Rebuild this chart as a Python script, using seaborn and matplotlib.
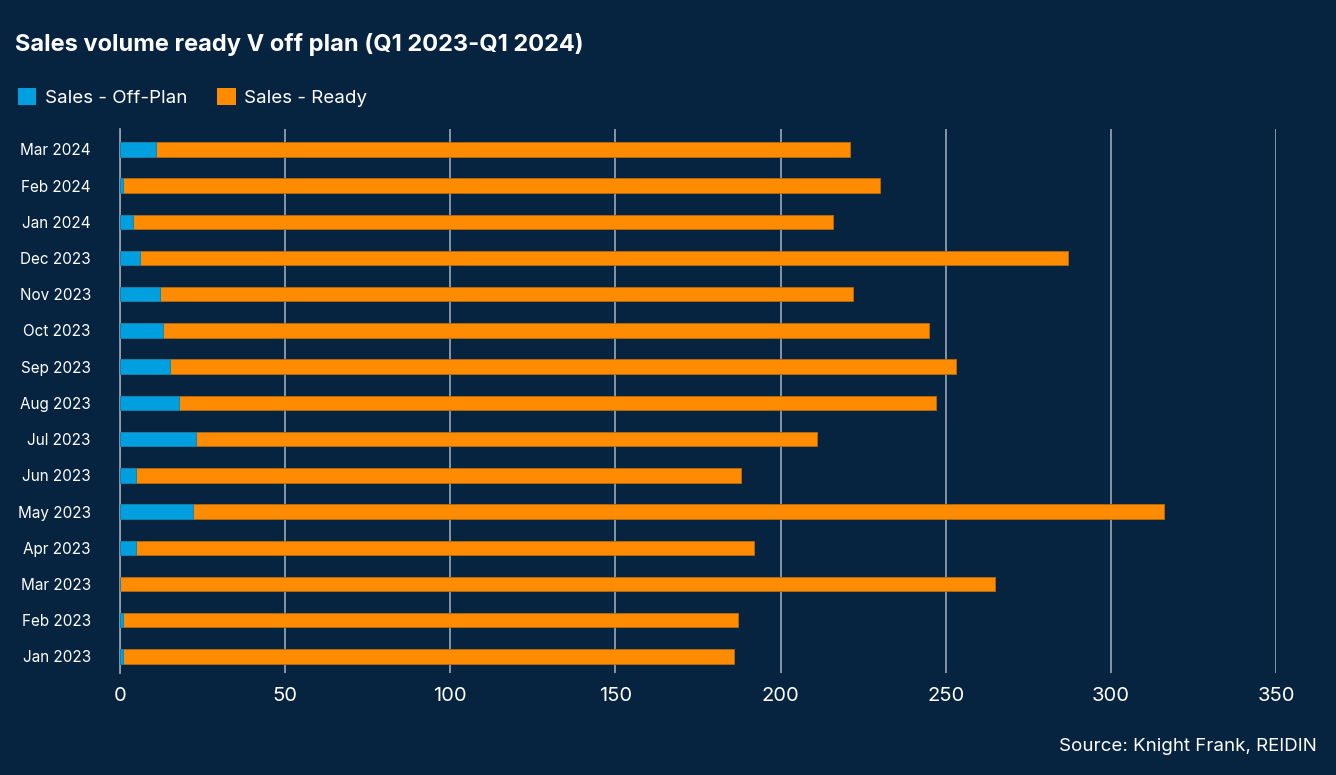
import pandas as pd
import seaborn as sns
import matplotlib.pyplot as plt
from matplotlib.patches import Patch

months = ["Mar 2024", "Feb 2024", "Jan 2024", "Dec 2023", "Nov 2023", "Oct 2023",
          "Sep 2023", "Aug 2023", "Jul 2023", "Jun 2023", "May 2023", "Apr 2023",
          "Mar 2023", "Feb 2023", "Jan 2023"]
off_plan = [11, 1, 4, 6, 12, 13, 15, 18, 23, 5, 22, 5, 0, 1, 1]
ready = [210, 229, 212, 281, 210, 232, 238, 229, 188, 183, 294, 187, 265, 186, 185]
x_ticks = [0, 50, 100, 150, 200, 250, 300, 350]

BG = "#06243F"
BLUE = "#009FDF"
ORANGE = "#FF8C00"
GRID = "#8E9FB0"

df = pd.DataFrame({"month": months, "off_plan": off_plan, "ready": ready})
df["total"] = df["off_plan"] + df["ready"]

sns.set_style("white")
plt.rcParams["font.family"] = ["Inter", "DejaVu Sans"]

fig = plt.figure(figsize=(13.36, 7.75), dpi=100, facecolor=BG)
ax = fig.add_axes([0.0898, 0.132, 0.8653, 0.701], facecolor=BG)

# stacked look: total in orange, off-plan drawn over it in blue
sns.barplot(data=df, y="month", x="total", color=ORANGE, orient="h", width=0.4,
            saturation=1, edgecolor="#B86A10", linewidth=0.6, ax=ax, zorder=2)
sns.barplot(data=df, y="month", x="off_plan", color=BLUE, orient="h", width=0.4,
            saturation=1, edgecolor="#0A7FB0", linewidth=0.6, ax=ax, zorder=3)

ax.set_xlim(0, 350)
ax.set_ylim(14.45, -0.55)
ax.set_xticks(x_ticks)
ax.set_xticklabels([str(t) for t in x_ticks], fontsize=14.5, color="white")
ax.tick_params(axis="x", length=0, pad=10)
ax.tick_params(axis="y", length=0, pad=21, labelsize=11, labelcolor="white")
ax.set_xlabel("")
ax.set_ylabel("")
ax.xaxis.grid(True, color=GRID, linewidth=1.3, zorder=0)
ax.set_axisbelow(True)
for s in ["top", "right", "bottom"]:
    ax.spines[s].set_visible(False)
ax.spines["left"].set_color(GRID)
ax.spines["left"].set_linewidth(1.3)

fig.text(0.011, 0.943, "Sales volume ready V off plan (Q1 2023-Q1 2024)", fontsize=17,
         fontweight="bold", color="white", va="center")

handles = [Patch(facecolor=BLUE, edgecolor="none", label="Sales - Off-Plan"),
           Patch(facecolor=ORANGE, edgecolor="none", label="Sales - Ready")]
fig.legend(handles=handles, loc="center left", bbox_to_anchor=(0.0005, 0.874), ncol=2,
           frameon=False, fontsize=13.5, labelcolor="white", handlelength=1.0,
           handleheight=1.0, handletextpad=0.45, columnspacing=1.6)

fig.text(0.986, 0.037, "Source: Knight Frank, REIDIN", fontsize=13.5, color="white",
         ha="right", va="center")

fig.savefig("out.png", dpi=100, facecolor=BG)
